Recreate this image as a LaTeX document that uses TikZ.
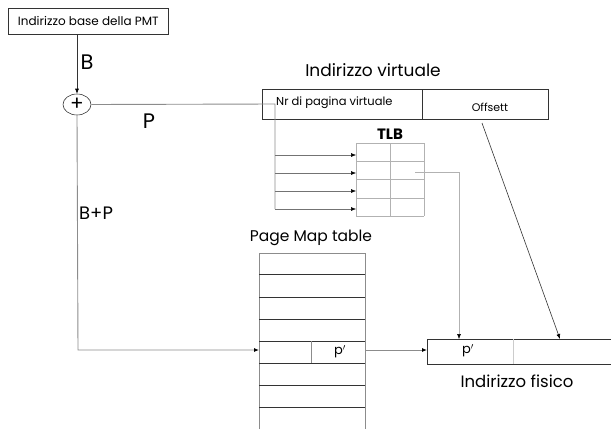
\documentclass[tikz,border=0pt]{standalone}
\usepackage{fontspec}
\setmainfont{Poppins}
\usetikzlibrary{arrows.meta,shapes.geometric}
\begin{document}
\begin{tikzpicture}[x=1pt,y=-1pt,
  gl/.style={draw=black!45,line width=0.9pt},
  bl/.style={draw=black!80,line width=0.6pt},
  tip/.style={-{Latex[length=5pt,width=4pt,color=black]}},
  lbl/.style={inner sep=0pt,anchor=center}]
\useasboundingbox (0,0) rectangle (611,429);
% base box
\node[bl,draw,minimum width=160,minimum height=26,inner sep=0,anchor=north west,font=\fontsize{12}{13}\selectfont] (base) at (8,8) {Indirizzo base della PMT};
% adder
\node[ellipse,bl,draw,minimum width=28,minimum height=21,inner sep=0,font=\fontsize{20}{20}\selectfont\addfontfeature{}] (add) at (77,104.5) {\raisebox{0.5pt}{+}};
\draw[bl,tip] (base.south -| add) -- (add.north);
\node[lbl,font=\fontsize{21}{21}\selectfont] (B) at (87,62) {B};
\node[lbl,font=\fontsize{21}{21}\selectfont] (P) at (149,121) {P};
\node[lbl,anchor=west,font=\fontsize{18}{18}\selectfont] (BP) at (79,213) {B+P};
% virtual address
\node[lbl,font=\fontsize{17}{18}\selectfont] (vtitle) at (373,70) {Indirizzo virtuale};
\draw[bl] (262,89) rectangle (548,119);
\draw[bl] (422,89) -- (422,119);
\node[lbl,anchor=west,font=\fontsize{11.5}{12}\selectfont] (nr) at (276,103) {Nr di pagina virtuale};
\node[lbl,font=\fontsize{11}{12}\selectfont] (off) at (490,107) {Offsett};
% TLB
\node[lbl,font=\fontsize{15}{15}\selectfont\bfseries] (tlb) at (390,134) {TLB};
\foreach \x in {356,390,424}{\draw[draw=black!30,line width=0.5pt] (\x,143) -- (\x,216);}
\foreach \y in {143,161.25,179.5,197.75,216}{\draw[draw=black!30,line width=0.5pt] (356,\y) -- (424,\y);}
\coordinate (t1) at (356,155);
\coordinate (t2) at (356,173);
\coordinate (t3) at (356,191);
\coordinate (t4) at (356,209);
\coordinate (tlbout) at (415,172);
% P line and branch
\coordinate (pj) at (275,104);
\draw[gl] (add.east) -- (pj) -- (275,209);
\foreach \c in {t1,t2,t3,t4}{\draw[draw=black!55,line width=0.5pt,tip] (\c -| pj) -- (\c);}
% Page map table
\node[lbl,font=\fontsize{15.5}{16}\selectfont] (pmtl) at (311,238) {Page Map table};
\draw[gl] (259,429) -- (259,253) -- (365,253) -- (365,429);
\foreach \y in {274,297,319,341,363,385,407}{\draw[bl,line width=0.7pt] (259,\y) -- (365,\y);}
\draw[gl] (311,341) -- (311,363);
\node[lbl,font=\fontsize{13}{13}\selectfont] (pp) at (340,352) {p$'$};
\coordinate (pmtin) at (259,350);
\coordinate (pmtout) at (365,350);
% physical address
\draw[bl] (611,339) -- (427,339) -- (427,364) -- (611,364);
\draw[draw=black!20,line width=0.5pt] (513,339) -- (513,364);
\node[lbl,font=\fontsize{13}{13}\selectfont] (fp) at (468,351) {p$'$};
\node[lbl,font=\fontsize{16.5}{18}\selectfont] (ftitle) at (517,381) {Indirizzo fisico};
\coordinate (fin) at (427,350);
\coordinate (fp1) at (459,339);
\coordinate (fo1) at (560,339);
% connectors
\draw[gl,tip] (add.south) -- (78,350) -- (pmtin);
\draw[gl,tip] (pmtout) -- (fin);
\draw[draw=black!30,line width=0.5pt,tip] (tlbout) -- (459,172) -- (fp1);
\draw[bl,tip] (482,123) -- (fo1);
\end{tikzpicture}
\end{document}
